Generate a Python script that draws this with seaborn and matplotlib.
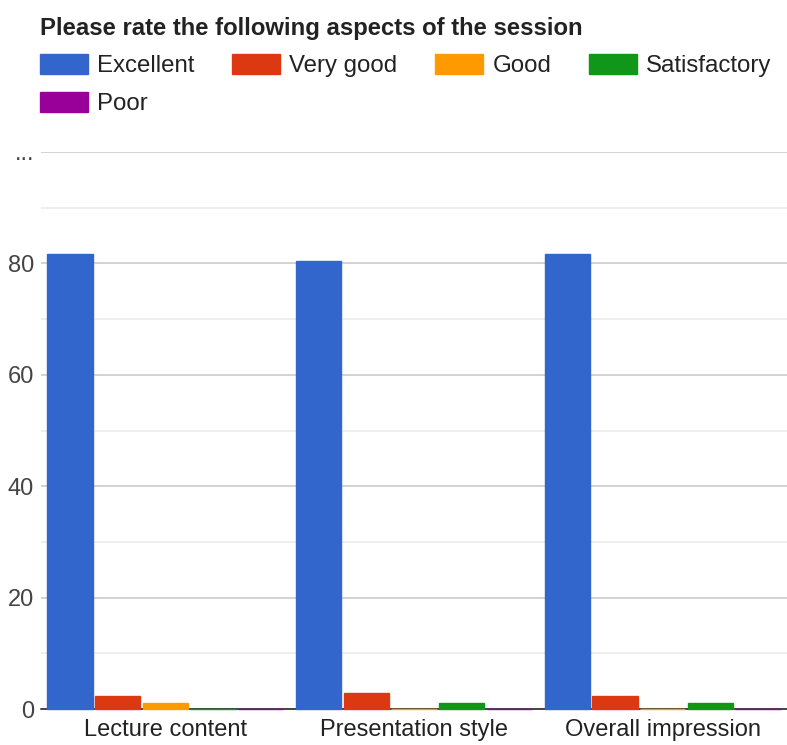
import pandas as pd
import matplotlib.pyplot as plt
import seaborn as sns
from matplotlib.ticker import MultipleLocator

# Survey results (percent of responses)
aspects = ['Lecture content', 'Presentation style', 'Overall impression']
ratings = ['Excellent', 'Very good', 'Good', 'Satisfactory', 'Poor']
excellent = [81.6, 80.5, 81.6]
very_good = [2.3, 2.9, 2.3]
good = [1.1, 0.0, 0.0]
satisfactory = [0.0, 1.1, 1.1]
poor = [0.0, 0.0, 0.0]
colors = ['#3366cc', '#dc3912', '#ff9900', '#109618', '#990099']
ytick_vals = [0, 20, 40, 60, 80, 100]
ytick_labels = ['0', '20', '40', '60', '80', '...']

series = [excellent, very_good, good, satisfactory, poor]
rows = []
for rating, vals in zip(ratings, series):
    for aspect, v in zip(aspects, vals):
        rows.append({'aspect': aspect, 'rating': rating, 'value': v})
df = pd.DataFrame(rows)

sns.set_theme(style='white')
plt.rcParams['font.family'] = ['Liberation Sans', 'DejaVu Sans']

fig = plt.figure(figsize=(7.87, 7.45), dpi=100)
ax = fig.add_axes([41 / 787, 1 - 709 / 745, 1 - 41 / 787, (709 - 152) / 745])

sns.barplot(data=df, x='aspect', y='value', hue='rating', order=aspects,
            hue_order=ratings, palette=colors, width=0.96, gap=0.05,
            saturation=1, ax=ax, zorder=3)

# zero-height bars still show as a thin coloured line
for p in ax.patches:
    p.set_edgecolor(p.get_facecolor())
    p.set_linewidth(1.0)
    p.set_clip_on(False)
    p.set_zorder(3)

ax.set_xlim(-0.5, 2.5)
ax.set_ylim(0, 100)
ax.set_yticks(ytick_vals)
ax.set_yticklabels(ytick_labels)
ax.yaxis.set_minor_locator(MultipleLocator(10))
ax.grid(axis='y', which='major', color='#cccccc', linewidth=1.2, zorder=0)
ax.grid(axis='y', which='minor', color='#ebebeb', linewidth=1.2, zorder=0)
ax.axhline(0, color='#444444', linewidth=1.4, zorder=2, clip_on=False)
for s in ax.spines.values():
    s.set_visible(False)
ax.set_xlabel('')
ax.set_ylabel('')
ax.tick_params(axis='y', which='major', length=3, color='#cccccc',
               labelsize=17, labelcolor='#444444', pad=2)
ax.tick_params(axis='y', which='minor', length=0)
ax.tick_params(axis='x', length=0, labelsize=17, labelcolor='#222222', pad=7)

# legend filled row by row like the original (matplotlib fills columns)
handles, labels = ax.get_legend_handles_labels()
order = [0, 4, 1, 2, 3]
leg = ax.legend([handles[i] for i in order], [labels[i] for i in order],
                loc='upper left', bbox_to_anchor=(40 / 787, 1 - 54 / 745),
                bbox_transform=fig.transFigure, ncol=4, frameon=False,
                fontsize=17.3, handlelength=2.0, handleheight=0.92,
                handletextpad=0.38, columnspacing=1.57, labelspacing=0.6,
                borderpad=0, borderaxespad=0)
for t in leg.get_texts():
    t.set_color('#222222')

fig.text(40 / 787, 1 - 28 / 745, 'Please rate the following aspects of the session',
         fontsize=17.2, fontweight='bold', color='#222222', va='center', ha='left')

fig.savefig('out.png', dpi=100)
